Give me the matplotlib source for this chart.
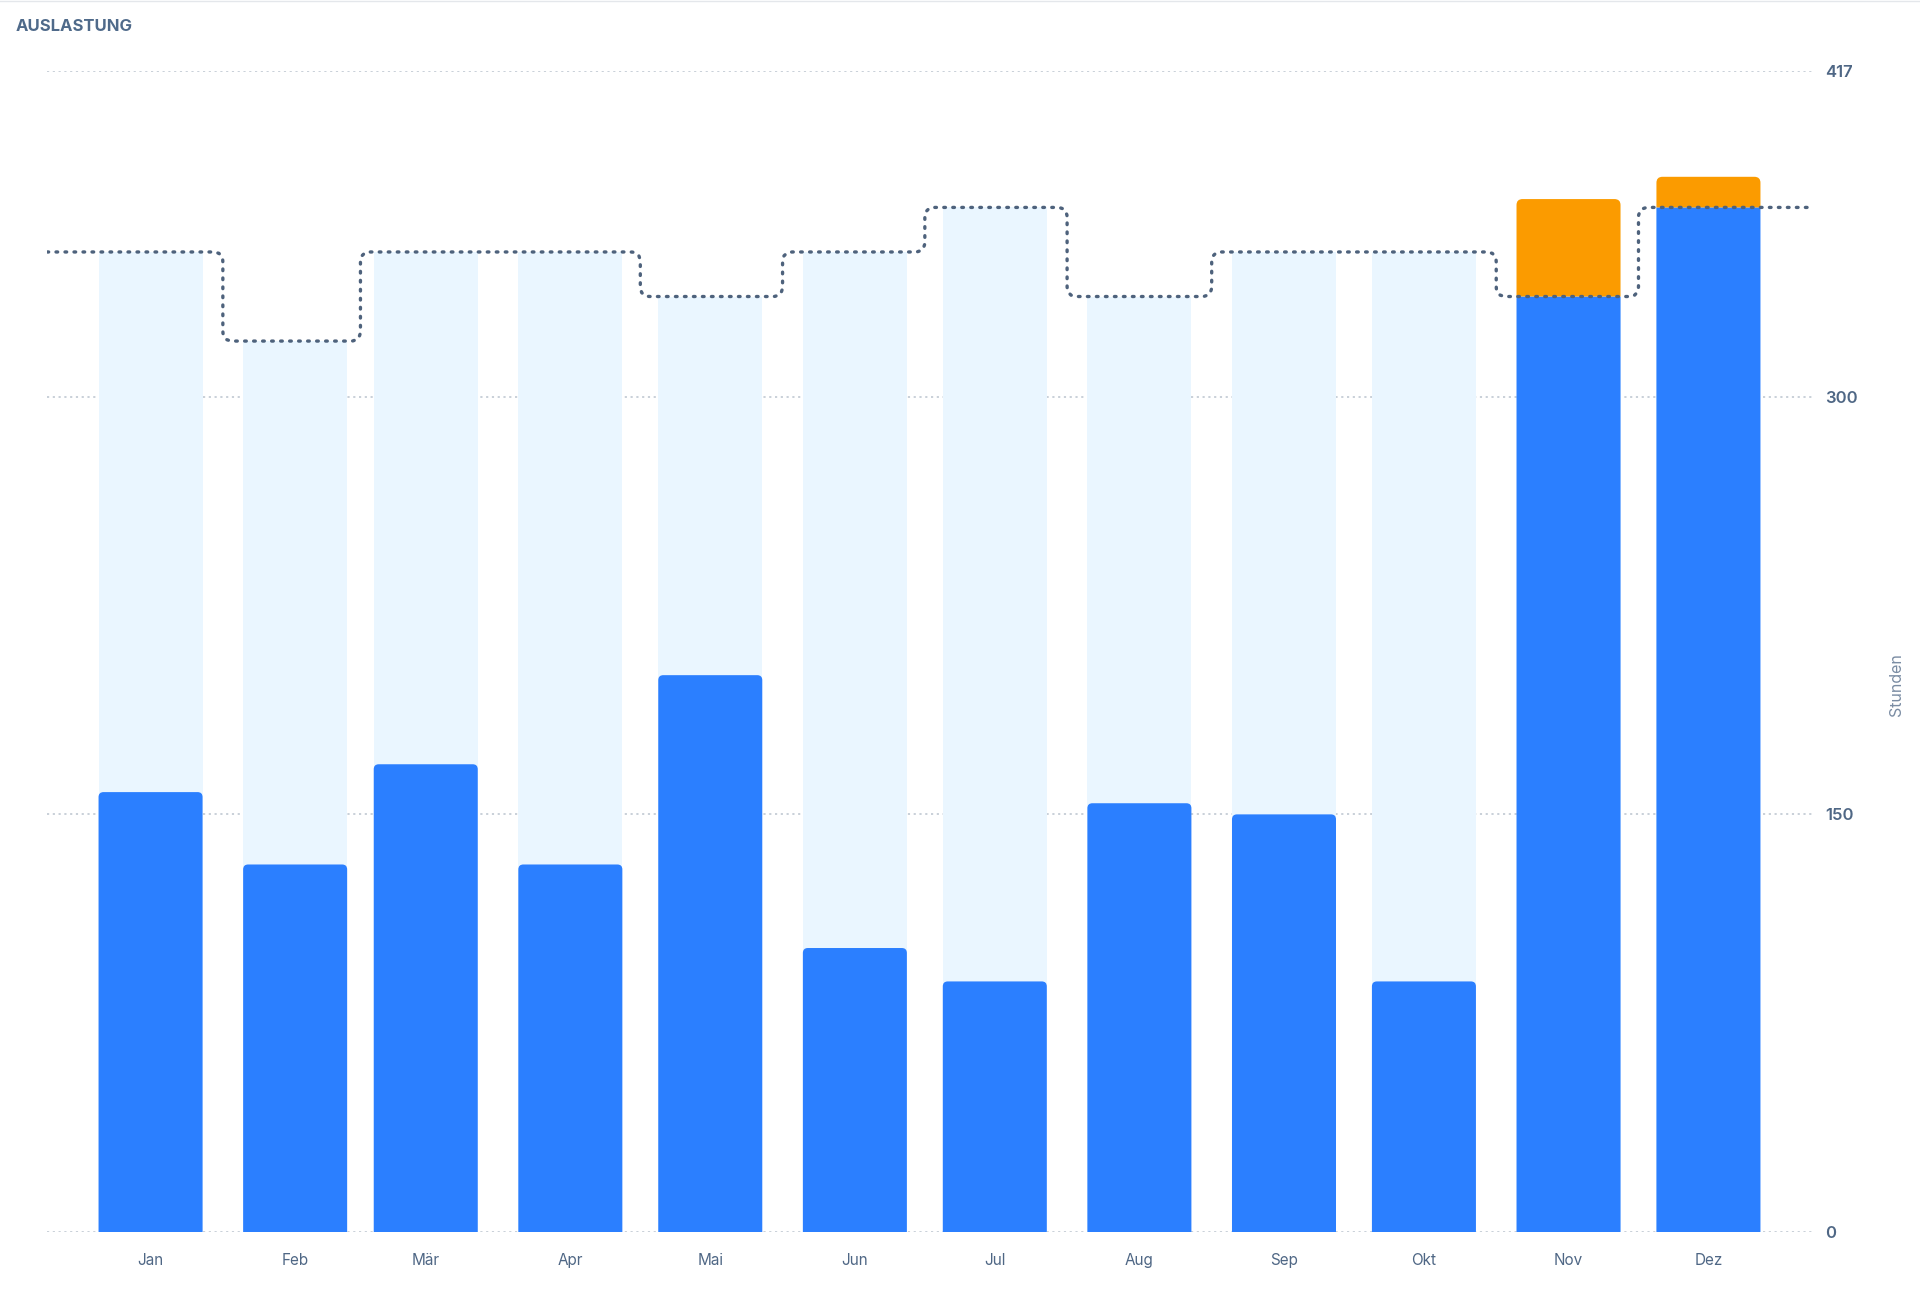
import numpy as np
import pandas as pd
import matplotlib
matplotlib.use('Agg')
import matplotlib.pyplot as plt
from matplotlib.path import Path
from matplotlib.patches import PathPatch

# ---- data ----
months = ['Jan', 'Feb', 'Mär', 'Apr', 'Mai', 'Jun', 'Jul', 'Aug', 'Sep', 'Okt', 'Nov', 'Dez']
capacity = [352, 320, 352, 352, 336, 352, 368, 336, 352, 352, 336, 368]
booked = [158, 132, 168, 132, 200, 102, 90, 154, 150, 90, 371, 379]
yticks = [0, 150, 300, 417]
title = 'AUSLASTUNG'
ylabel = 'Stunden'

# ---- style ----
C_BLUE = '#2B7FFF'
C_ORANGE = '#FB9B00'
C_LIGHT = '#EAF6FF'
C_LINE = '#4E627C'
C_GRID = '#C5CDD6'
C_TEXT = '#4F6785'
FONT = ['Inter', 'DejaVu Sans']
plt.rcParams['font.family'] = FONT

W, H, DPI = 1920, 1293, 100
fig = plt.figure(figsize=(W / DPI, H / DPI), dpi=DPI)
ax_left, ax_right = 47 / W, 1812 / W
ax_bottom, ax_top = (H - 1232) / H, (H - 71) / H
ax = fig.add_axes([ax_left, ax_bottom, ax_right - ax_left, ax_top - ax_bottom])

dates = pd.date_range('2023-01-01', periods=12, freq='MS')
x = np.asarray((dates - dates[0]).days, dtype=float)
bar_w = 22.3
pad = 22.2
xl, xr = x[0] - pad, x[-1] + pad
ax.set_xlim(xl, xr)
ax.set_ylim(0, yticks[-1])

# pixel -> data conversion
ax_w_px = (ax_right - ax_left) * W
ax_h_px = (ax_top - ax_bottom) * H
dx_per_px = (xr - xl) / ax_w_px
dy_per_px = yticks[-1] / ax_h_px


def rounded_top(x0, x1, y0, y1, r_px):
    rx, ry = r_px * dx_per_px, r_px * dy_per_px
    verts = [(x0, y0), (x0, y1 - ry), (x0, y1), (x0 + rx, y1), (x1 - rx, y1),
             (x1, y1), (x1, y1 - ry), (x1, y0), (x0, y0)]
    codes = [Path.MOVETO, Path.LINETO, Path.CURVE3, Path.CURVE3, Path.LINETO,
             Path.CURVE3, Path.CURVE3, Path.LINETO, Path.CLOSEPOLY]
    return Path(verts, codes)


# gridlines
for t in yticks:
    ax.axhline(t, color=C_GRID, lw=1.3, linestyle=(0, (1.2, 2.0)), zorder=0)

# capacity (light) bars
ax.bar(x, capacity, width=bar_w, color=C_LIGHT, zorder=1, linewidth=0)

# booked bars
for xi, cap, b in zip(x, capacity, booked):
    x0, x1 = xi - bar_w / 2, xi + bar_w / 2
    if b <= cap:
        ax.add_patch(PathPatch(rounded_top(x0, x1, 0, b, 5), facecolor=C_BLUE,
                               edgecolor='none', zorder=2))
    else:
        ax.add_patch(PathPatch(rounded_top(x0, x1, 0, cap, 0.01), facecolor=C_BLUE,
                               edgecolor='none', zorder=2))
        ax.add_patch(PathPatch(rounded_top(x0, x1, cap, b, 6), facecolor=C_ORANGE,
                               edgecolor='none', zorder=2))

# stepped capacity line with rounded corners
r = 10
rx, ry = r * dx_per_px, r * dy_per_px
verts = [(xl, capacity[0])]
codes = [Path.MOVETO]
for i in range(len(x) - 1):
    c0, c1 = capacity[i], capacity[i + 1]
    if c0 == c1:
        continue
    xm = (x[i] + x[i + 1]) / 2
    s = 1 if c1 > c0 else -1
    verts += [(xm - rx, c0), (xm, c0), (xm, c0 + s * ry),
              (xm, c1 - s * ry), (xm, c1), (xm + rx, c1)]
    codes += [Path.LINETO, Path.CURVE3, Path.CURVE3,
              Path.LINETO, Path.CURVE3, Path.CURVE3]
verts.append((xr, capacity[-1]))
codes.append(Path.LINETO)
ax.add_patch(PathPatch(Path(verts, codes), fill=False, edgecolor=C_LINE, lw=2.4,
                       linestyle=(0, (0.5, 2.2)), capstyle='round', zorder=3))

# axes styling
for sp in ax.spines.values():
    sp.set_visible(False)
ax.set_xticks(x)
ax.set_xticklabels(months)
ax.yaxis.tick_right()
ax.set_yticks(yticks)
ax.set_yticklabels([str(t) for t in yticks])
ax.tick_params(axis='x', length=0, pad=15, labelsize=11, labelcolor=C_TEXT)
ax.tick_params(axis='y', length=0, pad=9.5, labelsize=12, labelcolor=C_TEXT)
for lab in ax.get_yticklabels():
    lab.set_fontweight('semibold')
    lab.set_horizontalalignment('left')

fig.text(1897 / W, 1 - 685 / H, ylabel, rotation=90, ha='center', va='center',
         fontsize=11.5, color='#7A8CA3')
fig.text(16 / W, 1 - 26.5 / H, title, ha='left', va='center', fontsize=12,
         fontweight='bold', color='#4F6A8A')
fig.add_artist(plt.Line2D([0, 1], [1 - 1 / H, 1 - 1 / H], color='#E4E7EB', lw=1))

fig.savefig('out.png', dpi=DPI)
